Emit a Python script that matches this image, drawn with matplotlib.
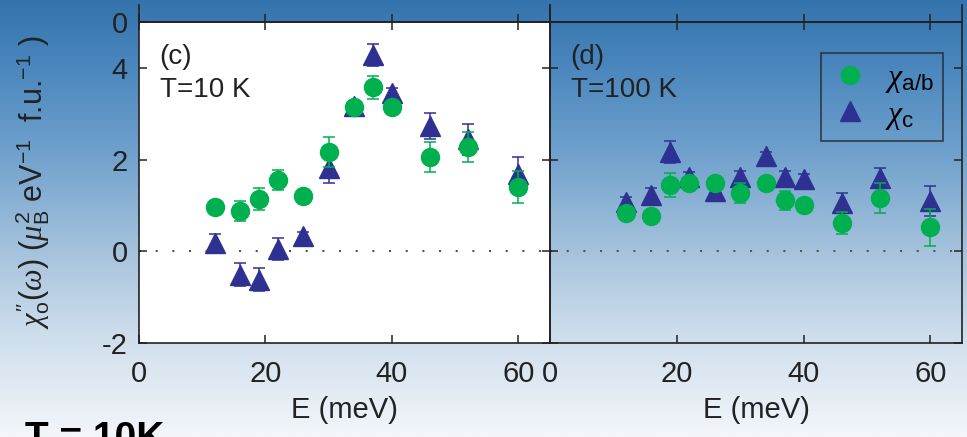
import matplotlib
matplotlib.use("Agg")
import matplotlib.pyplot as plt
import numpy as np
from matplotlib.colors import LinearSegmentedColormap
from matplotlib.lines import Line2D

plt.rcParams['font.family'] = ['Liberation Sans', 'DejaVu Sans']
plt.rcParams['mathtext.fontset'] = 'custom'
plt.rcParams['mathtext.rm'] = 'Liberation Sans'
plt.rcParams['mathtext.it'] = 'Liberation Serif:italic'
plt.rcParams['mathtext.bf'] = 'Liberation Sans:bold'
plt.rcParams['axes.unicode_minus'] = False

# energy transfer (meV)
energy = [12, 16, 19, 22, 26, 30, 34, 37, 40, 46, 52, 60]

# (c) T = 10 K
chi_ab_10 = [0.97, 0.87, 1.14, 1.56, 1.21, 2.17, 3.15, 3.58, 3.15, 2.05, 2.28, 1.41]
chi_ab_10_err = [0.1, 0.22, 0.25, 0.22, 0.1, 0.33, 0.1, 0.25, 0.1, 0.33, 0.33, 0.35]
chi_c_10 = [0.18, -0.51, -0.62, 0.04, 0.33, 1.82, 3.17, 4.28, 3.45, 2.73, 2.44, 1.69]
chi_c_10_err = [0.2, 0.25, 0.25, 0.24, 0.1, 0.33, 0.1, 0.25, 0.1, 0.28, 0.34, 0.37]

# (d) T = 100 K
chi_ab_100 = [0.84, 0.78, 1.45, 1.50, 1.50, 1.27, 1.50, 1.11, 1.02, 0.62, 1.17, 0.52]
chi_ab_100_err = [0.1, 0.1, 0.26, 0.1, 0.1, 0.22, 0.1, 0.2, 0.1, 0.24, 0.33, 0.41]
chi_c_100 = [1.08, 1.23, 2.17, 1.62, 1.32, 1.63, 2.07, 1.63, 1.58, 1.06, 1.60, 1.10]
chi_c_100_err = [0.1, 0.15, 0.24, 0.1, 0.1, 0.12, 0.1, 0.12, 0.1, 0.22, 0.22, 0.33]

green = '#00b04f'
navy = '#2e3192'
ink = '#222222'

W, H = 967, 437
fig = plt.figure(figsize=(W / 100, H / 100), dpi=100)

# slide background gradient
bg = fig.add_axes([0, 0, 1, 1], zorder=-10)
bg_cmap = LinearSegmentedColormap.from_list('slide', [
    (0.0, (52/255, 115/255, 172/255)),
    (60/437, (72/255, 133/255, 188/255)),
    (150/437, (110/255, 160/255, 204/255)),
    (250/437, (165/255, 194/255, 220/255)),
    (340/437, (208/255, 223/255, 237/255)),
    (1.0, (243/255, 246/255, 250/255)),
])
bg.imshow(np.linspace(0, 1, 256).reshape(-1, 1), aspect='auto', cmap=bg_cmap,
          extent=[0, 1, 0, 1])
bg.axis('off')


def px(x0, y0, x1, y1):
    return [x0 / W, 1 - y1 / H, (x1 - x0) / W, (y1 - y0) / H]


def style(ax):
    for s in ax.spines.values():
        s.set_linewidth(1.2)
        s.set_color(ink)
    ax.tick_params(direction='in', length=6, width=1.1, color=ink,
                   labelsize=21, labelcolor=ink, top=True, right=True)
    ax.tick_params(axis='x', pad=12)
    ax.tick_params(axis='y', pad=8)


ax_c = fig.add_axes(px(139, 22, 550, 343))
ax_d = fig.add_axes(px(550, 22, 962, 343))
ax_c.set_facecolor('white')
ax_d.set_facecolor('none')

panels = [
    (ax_c, chi_ab_10, chi_ab_10_err, chi_c_10, chi_c_10_err, '(c)', 'T=10 K'),
    (ax_d, chi_ab_100, chi_ab_100_err, chi_c_100, chi_c_100_err, '(d)', 'T=100 K'),
]
for ax, ab, ab_err, cc, cc_err, tag, temp in panels:
    ax.axhline(0, color='#555555', lw=1.5, ls=(0, (1, 7)), zorder=1)
    ax.errorbar(energy, cc, yerr=cc_err, fmt='^', ms=14, color=navy, mec=navy,
                ecolor=navy, elinewidth=1.1, capsize=4, capthick=1.1, zorder=3)
    ax.errorbar(energy, ab, yerr=ab_err, fmt='o', ms=13, color=green, mec=green,
                ecolor=green, elinewidth=1.1, capsize=4, capthick=1.1, zorder=4)
    ax.set_xlim(0, 65)
    ax.set_ylim(-2, 5)
    ax.set_xticks([0, 20, 40, 60])
    ax.set_yticks([-2, 0, 2, 4])
    ax.set_xlabel('E (meV)', fontsize=21, color=ink, labelpad=6)
    style(ax)
    ax.text(0.05, 0.93, tag, transform=ax.transAxes, fontsize=20, color=ink,
            va='top', ha='left')
    ax.text(0.05, 0.83, temp, transform=ax.transAxes, fontsize=20, color=ink,
            va='top', ha='left')

ax_d.tick_params(labelleft=False)
ax_c.set_ylabel(r"$\chi_{\mathrm{o}}''(\omega)$ ($\mu_{\mathrm{B}}^{2}$ eV$^{-1}$  f.u.$^{-1}$ )",
                fontsize=22, color=ink, labelpad=36)

legend_marks = [
    Line2D([], [], ls='none', marker='o', ms=13, color=green),
    Line2D([], [], ls='none', marker='^', ms=14, color=navy),
]
leg = ax_d.legend(legend_marks, [r'$\chi_{\mathrm{a/b}}$', r'$\chi_{\mathrm{c}}$'],
                  loc='upper right', bbox_to_anchor=(0.954, 0.903),
                  borderaxespad=0, fontsize=23, frameon=True, fancybox=False,
                  handletextpad=0.5, borderpad=0.3, labelspacing=0.15,
                  handlelength=1.2)
leg.get_frame().set_edgecolor(ink)
leg.get_frame().set_facecolor('none')
leg.get_frame().set_linewidth(1.2)

# bottoms of the panels above
ax_a = fig.add_axes(px(139, 5, 550, 22))
ax_b = fig.add_axes(px(550, 5, 962, 22))
for ax in (ax_a, ax_b):
    ax.set_facecolor('none')
    ax.set_xlim(0, 65)
    ax.set_ylim(0, 1)
    ax.set_xticks([0, 20, 40, 60])
    ax.set_yticks([0])
    style(ax)
    ax.spines['top'].set_visible(False)
    ax.tick_params(top=False, labelbottom=False)
ax_b.tick_params(labelleft=False)

fig.text(25 / W, -12 / H, 'T = 10K', fontsize=28, fontweight='bold',
         color='black', ha='left', va='baseline')

fig.savefig('out.png', dpi=100)
